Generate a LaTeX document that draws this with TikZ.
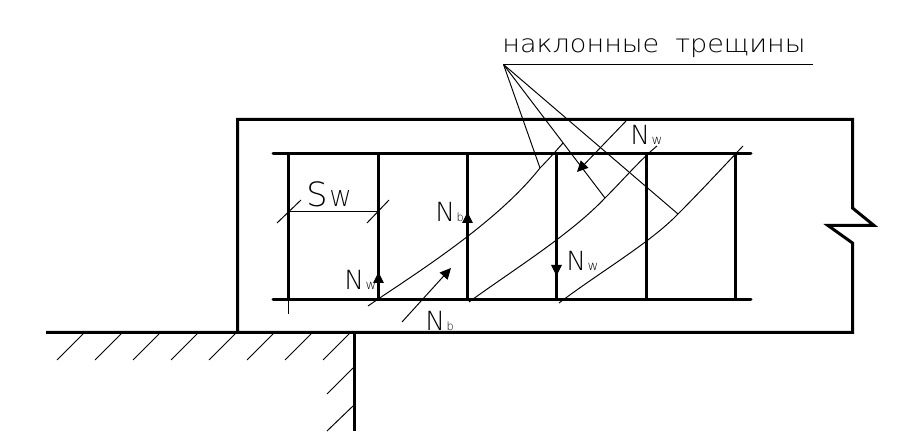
\documentclass[tikz,border=0pt]{standalone}
\usepackage{fontspec}
\usepackage{tikz}
\usetikzlibrary{arrows.meta}
\newfontfamily\cadfont[FakeStretch=1.1]{DejaVu Sans ExtraLight}
\newfontfamily\cadlatin{DejaVu Sans ExtraLight}
\newcommand{\forcename}[2]{N\hspace{0.3mm}{\fontsize{#1}{#1}\selectfont #2}}

\begin{document}
\begin{tikzpicture}[x=0.02cm, y=-0.02cm,
        bar/.style = {
            line width=0.06cm,
            line cap=round
        },
        contour/.style = {
            line width=0.06cm,
            line join=miter
        },
        thin_line/.style = {
            line width=0.55pt
        },
        force/.style = {
            line width=0.55pt,
            -{Triangle[length=0.22cm, width=0.21cm]}
        },
        force_name/.style = {
            anchor=base west,
            inner sep=0pt,
            font=\cadlatin\fontsize{15}{15}\selectfont
        }
    ]
    \useasboundingbox (0,0) rectangle (921,432);

    \draw[contour] (46,332.5) -- (852.5,332.5) -- (852.5,243) -- (828,225.5) -- (874,225.5) -- (852.5,208) -- (852.5,119.5) -- (237.5,119.5) -- (237.5,332.5);
    \draw[contour] (354.5,332.5) -- (354.5,431);

    \draw[thin_line] (83,334) -- (57,360);
    \draw[thin_line] (121,334) -- (95,360);
    \draw[thin_line] (159,334) -- (133,360);
    \draw[thin_line] (197,334) -- (171,360);
    \draw[thin_line] (235,334) -- (209,360);
    \draw[thin_line] (273,334) -- (247,360);
    \draw[thin_line] (311,334) -- (285,360);
    \draw[thin_line] (349,334) -- (323,360);
    \draw[thin_line] (353,368) -- (327,394);
    \draw[thin_line] (353,406) -- (327,431);

    \draw[bar] (273,153.5) -- (751,153.5);
    \draw[bar] (273,299.5) -- (751,299.5);
    \draw[bar] (288.5,153.5) -- (288.5,299.5);
    \draw[bar] (378.5,153.5) -- (378.5,299.5);
    \draw[bar] (467.5,153.5) -- (467.5,299.5);
    \draw[bar] (556.5,153.5) -- (556.5,299.5);
    \draw[bar] (646.5,153.5) -- (646.5,299.5);
    \draw[bar] (735.5,153.5) -- (735.5,299.5);
    \draw[thin_line] (288.5,299.5) -- (288.5,314);

    \coordinate (crack_a) at (540,168);
    \coordinate (crack_b) at (605,198);
    \coordinate (crack_c) at (678,214);
    \draw[thin_line] (368,306) .. controls (410,277) and (495,225) .. (crack_a) .. controls (548,160) and (555,152) .. (563,143);
    \draw[thin_line] (469,302) .. controls (510,272) and (570,235) .. (crack_b) .. controls (625,178) and (640,160) .. (657,146);
    \draw[thin_line] (559,303) .. controls (600,272) and (650,243) .. (crack_c) .. controls (700,192) and (725,165) .. (743,146);

    \node (title) [anchor=base west, inner sep=0pt, font=\cadfont\fontsize{14}{14}\selectfont] at (502,53) {наклонные\hspace{3.2mm}трещины};
    \coordinate (leader) at (503.5,64.5);
    \draw[thin_line] (leader) -- (813,64.5);
    \draw[thin_line] (leader) -- (crack_a);
    \draw[thin_line] (leader) -- (crack_b);
    \draw[thin_line] (leader) -- (crack_c);

    \coordinate (sw_left) at (288.5,211);
    \coordinate (sw_right) at (378.5,211);
    \draw[thin_line] (sw_left) -- (sw_right);
    \draw[thin_line] (277,223) -- (301,200);
    \draw[thin_line] (367,223) -- (389,200);
    \node (spacing) [force_name] at (306,207) {{\fontsize{19}{19}\selectfont S}\hspace{0.4mm}{\fontsize{12.5}{12.5}\selectfont W}};

    \draw[force] (627,120) -- (577,172);
    \draw[force] (402,322) -- (451,268);
    \draw[force] (378.5,290) -- (378.5,272);
    \draw[force] (467.5,230) -- (467.5,212);
    \draw[force] (556.5,258) -- (556.5,276);

    \node (nw_top) [force_name] at (630,145) {\forcename{7.5}{w}};
    \node (nw_left) [force_name] at (344,290) {\forcename{7.5}{w}};
    \node (nb_top) [force_name] at (435,222) {\forcename{6.5}{b}};
    \node (nb_low) [force_name] at (425,331) {\forcename{6.5}{b}};
    \node (nw_right) [force_name] at (566,271) {\forcename{7.5}{w}};
\end{tikzpicture}
\end{document}
